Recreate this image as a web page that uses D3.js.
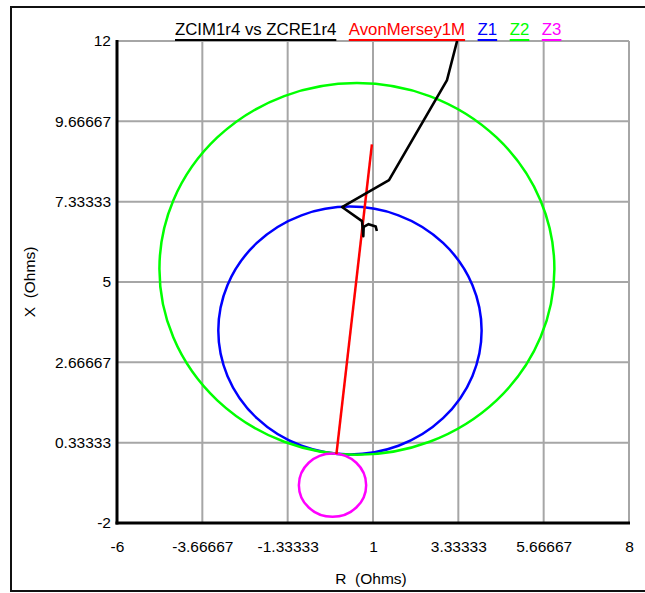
<!DOCTYPE html>
<html>
<head>
<meta charset="utf-8">
<script src="https://cdn.jsdelivr.net/npm/d3@7"></script>
<style>
  html, body { margin: 0; padding: 0; background: #fff; }
  svg { display: block; font-family: "Liberation Sans", Arial, sans-serif; }
  text { white-space: pre; }
</style>
</head>
<body>
<svg id="chart" width="645" height="593"></svg>
<script>
// Axis ticks (Ohms)
const rTicks = [-6, -3.66667, -1.33333, 1, 3.33333, 5.66667, 8];
const xTicks = [-2, 0.33333, 2.66667, 5, 7.33333, 9.66667, 12];

// Measured impedance trajectory ZCIM1r4 vs ZCRE1r4: [R, X]
const trajR = [3.36, 3.024, 1.438, 0.153, 0.700, 0.735, 0.745, 0.880, 1.075, 1.105];
const trajX = [12.25, 10.866, 7.961, 7.177, 6.770, 6.330, 6.600, 6.680, 6.610, 6.480];

// Line impedance AvonMersey1M: [R, X]
const lineR = [0, 0.97];
const lineX = [0, 9.0];

// Mho zone circles: centre R, centre X, radius
const zoneNames = ["Z1", "Z2", "Z3"];
const zoneCR = [0.37, 0.56, -0.107];
const zoneCX = [3.59, 5.38, -0.90];
const zoneRad = [3.60, 5.40, 0.92];

const legendNames = ["ZCIM1r4 vs ZCRE1r4", "AvonMersey1M", "Z1", "Z2", "Z3"];
const legendColors = ["#000000", "#ff0000", "#0000ff", "#00ff00", "#ff00ff"];

const svg = d3.select("#chart");

// outer frame
svg.append("path")
  .attr("d", "M660,7 H11 V591 H660")
  .attr("fill", "none").attr("stroke", "#111").attr("stroke-width", 2);

const pL = 117, pR = 629, pT = 41, pB = 523;
const x = d3.scaleLinear().domain([-6, 8]).range([pL, pR]);
const y = d3.scaleLinear().domain([-2, 12]).range([pB, pT]);

// grid
const grid = svg.append("g");
grid.selectAll("line.v").data(rTicks).join("line").attr("class", "v")
  .attr("x1", d => x(d)).attr("x2", d => x(d))
  .attr("y1", pT).attr("y2", pB)
  .attr("stroke", "#a6a6a6").attr("stroke-width", 2);
grid.selectAll("line.h").data(xTicks).join("line").attr("class", "h")
  .attr("x1", pL).attr("x2", pR)
  .attr("y1", d => y(d)).attr("y2", d => y(d))
  .attr("stroke", "#a6a6a6").attr("stroke-width", 2);

// axes with labels
const fmt = d => String(d);
const xAxis = svg.append("g").attr("transform", `translate(0,${pB})`)
  .call(d3.axisBottom(x).tickValues(rTicks).tickFormat(fmt).tickSize(0).tickPadding(18));
const yAxis = svg.append("g").attr("transform", `translate(${pL},0)`)
  .call(d3.axisLeft(y).tickValues(xTicks).tickFormat(fmt).tickSize(0).tickPadding(6));
[xAxis, yAxis].forEach(a => {
  a.select(".domain").remove();
  a.selectAll("text").attr("font-size", 15.5).attr("fill", "#000")
    .attr("font-family", "Liberation Sans, Arial, sans-serif");
});

// heavy axis lines
svg.append("line").attr("x1", pL).attr("x2", pL).attr("y1", pT - 1).attr("y2", pB + 1.5)
  .attr("stroke", "#000").attr("stroke-width", 3);
svg.append("line").attr("x1", pL - 1.5).attr("x2", pR + 1).attr("y1", pB).attr("y2", pB)
  .attr("stroke", "#000").attr("stroke-width", 3);

// axis titles
svg.append("text").attr("x", (pL + pR) / 2 - 2).attr("y", 584)
  .attr("text-anchor", "middle").attr("font-size", 15.5).text("R  (Ohms)");
svg.append("text").attr("transform", `translate(35,${(pT + pB) / 2}) rotate(-90)`)
  .attr("text-anchor", "middle").attr("font-size", 15.5).text("X  (Ohms)");

// clip to plot area
svg.append("clipPath").attr("id", "plotClip").append("rect")
  .attr("x", pL).attr("y", pT).attr("width", pR - pL).attr("height", pB - pT);
const plot = svg.append("g").attr("clip-path", "url(#plotClip)");

// zone circles
const zoneColors = ["#0000ff", "#00ff00", "#ff00ff"];
plot.selectAll("ellipse.zone").data(zoneNames).join("ellipse").attr("class", "zone")
  .attr("cx", (d, i) => x(zoneCR[i]))
  .attr("cy", (d, i) => y(zoneCX[i]))
  .attr("rx", (d, i) => x(zoneRad[i]) - x(0))
  .attr("ry", (d, i) => y(0) - y(zoneRad[i]))
  .attr("fill", "none")
  .attr("stroke", (d, i) => zoneColors[i])
  .attr("stroke-width", 2.5);

// line impedance
const lineGen = d3.line().x(d => x(d[0])).y(d => y(d[1]));
plot.append("path")
  .attr("d", lineGen(lineR.map((r, i) => [r, lineX[i]])))
  .attr("fill", "none").attr("stroke", "#ff0000").attr("stroke-width", 2.5);

// trajectory
plot.append("path")
  .attr("d", lineGen(trajR.map((r, i) => [r, trajX[i]])))
  .attr("fill", "none").attr("stroke", "#000").attr("stroke-width", 2.6)
  .attr("stroke-linejoin", "round");

// legend
const leg = svg.append("g");
let lx = 175;
legendNames.forEach((name, i) => {
  const t = leg.append("text").attr("x", lx).attr("y", 35)
    .attr("font-size", 16.8).attr("fill", legendColors[i]).text(name);
  const w = t.node().getComputedTextLength();
  leg.append("line").attr("x1", lx).attr("x2", lx + w).attr("y1", 40).attr("y2", 40)
    .attr("stroke", legendColors[i]).attr("stroke-width", 2);
  lx += w + 12.5;
});
</script>
</body>
</html>
